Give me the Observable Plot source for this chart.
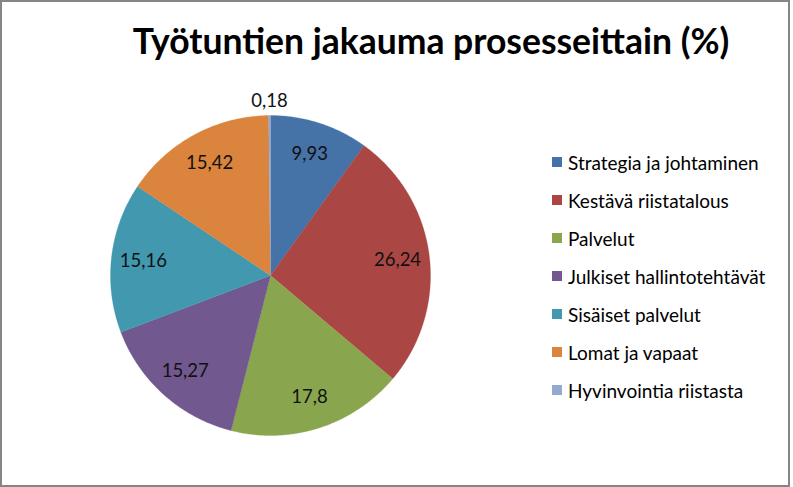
<!DOCTYPE html>
<html><head><meta charset="utf-8">
<script src="https://cdn.jsdelivr.net/npm/d3@7"></script>
<script src="https://cdn.jsdelivr.net/npm/@observablehq/plot@0.6"></script>
<style>
html,body{margin:0;padding:0;background:#fff;}
#wrap{position:relative;width:793px;height:487px;overflow:hidden;font-family:Lato,"Open Sans",sans-serif;}
#frame{position:absolute;left:0;top:0;width:790px;height:487px;box-sizing:border-box;border:2px solid #868686;}
#chart{position:absolute;left:0;top:0;}
#title{position:absolute;left:0;width:862px;top:20px;text-align:center;font-weight:bold;font-size:35.5px;line-height:42px;color:#000;}
#legend{position:absolute;left:552px;top:0;}
.row{position:absolute;left:0;height:22px;display:flex;align-items:center;white-space:nowrap;font-size:19px;color:#000;}
.sw{width:10px;height:10px;margin-right:6px;}
</style>
</head><body>
<div id="wrap">
  <div id="chart"></div>
  <div id="frame"></div>
  <div id="title">Työtuntien jakauma prosesseittain (%)</div>
  <div id="legend"></div>
</div>
<script>
const categories = ["Strategia ja johtaminen","Kestävä riistatalous","Palvelut","Julkiset hallintotehtävät","Sisäiset palvelut","Lomat ja vapaat","Hyvinvointia riistasta"];
const values = [9.93, 26.24, 17.8, 15.27, 15.16, 15.42, 0.18];
const valueLabels = ["9,93","26,24","17,8","15,27","15,16","15,42","0,18"];
const colors = ["#4572A7","#AA4643","#89A54E","#71588F","#4198AF","#DB843D","#93A9CF"];

const total = d3.sum(values);
let acc = 0;
const slices = values.map((v, i) => {
  const a0 = acc / total * 2 * Math.PI; acc += v;
  const a1 = acc / total * 2 * Math.PI;
  return {i, cat: categories[i], a0, a1, v};
});
const outline = slices.flatMap(s => {
  const n = Math.max(2, Math.ceil((s.a1 - s.a0) / (Math.PI / 360)));
  const pts = [{cat: s.cat, x: 0, y: 0}];
  for (let k = 0; k <= n; k++) {
    const a = s.a0 + (s.a1 - s.a0) * k / n;
    pts.push({cat: s.cat, x: Math.sin(a), y: Math.cos(a)});
  }
  pts.push({cat: s.cat, x: 0, y: 0});
  return pts;
});
const labels = slices.map(s => {
  const m = (s.a0 + s.a1) / 2;
  const r = s.v / total < 0.02 ? 1.09 : 0.8;
  return {x: r * Math.sin(m), y: r * Math.cos(m), text: valueLabels[s.i]};
});

const plot = Plot.plot({
  width: 793, height: 487,
  marginLeft: 110, marginRight: 363, marginTop: 115, marginBottom: 52,
  x: {domain: [-1, 1], axis: null},
  y: {domain: [-1, 1], axis: null},
  color: {domain: categories, range: colors},
  style: {fontFamily: "Lato, 'Open Sans', sans-serif", background: "transparent"},
  marks: [
    Plot.line(outline, {x: "x", y: "y", z: "cat", fill: "cat", stroke: "cat", strokeWidth: 0.3, curve: "linear"}),
    Plot.text(labels, {x: "x", y: "y", text: "text", fontSize: 18.5, fill: "#111"})
  ]
});
document.getElementById("chart").appendChild(plot);

const legend = document.getElementById("legend");
categories.forEach((c, i) => {
  const row = document.createElement("div");
  row.className = "row";
  row.style.top = (151 + 38 * i) + "px";
  const sw = document.createElement("span");
  sw.className = "sw";
  sw.style.background = colors[i];
  const t = document.createElement("span");
  t.textContent = c;
  row.appendChild(sw); row.appendChild(t);
  legend.appendChild(row);
});
</script>
</body></html>
